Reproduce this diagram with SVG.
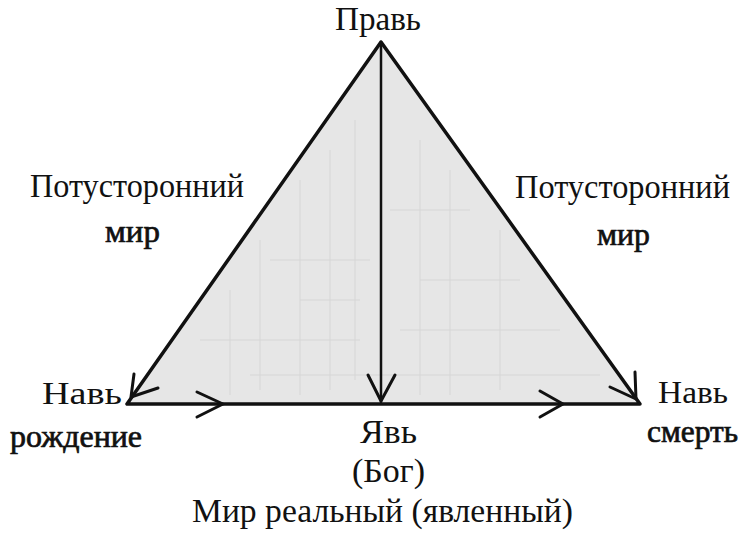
<svg xmlns="http://www.w3.org/2000/svg" width="750" height="546" viewBox="0 0 750 546">
<style>
.t{font-family:"Liberation Serif","Times New Roman",serif;fill:#111;}
.b{stroke:#111;stroke-width:0.7;}
.ln{stroke:#111;fill:none;stroke-linecap:round;stroke-linejoin:round;}
.tx{stroke:#d6d6d6;stroke-width:1;fill:none;}
</style>
<rect width="750" height="546" fill="#ffffff"/>
<g id="triangle">
<polygon points="381,42 127,404 640,404" fill="#e6e6e6"/>
<g class="tx">
<path d="M300,180 V395 M330,150 V390 M355,120 V380 M420,140 V395 M450,170 V395 M500,230 V390 M260,240 V390 M230,290 V395"/>
<path d="M270,260 H370 M390,210 H470 M200,340 H360 M400,330 H560 M300,300 H360 M420,280 H520 M250,375 H600"/>
</g>
<path class="ln" stroke-width="3.5" d="M381,42 L127,404 L640,404 Z"/>
</g>
<g id="connectors">
<path class="ln" stroke-width="2.5" d="M381,42 V402"/>
<path class="ln" stroke-width="3" d="M368,375 L381,401 L395,375"/>
<path class="ln" stroke-width="3" d="M197,392 L223,404 L197,417"/>
<path class="ln" stroke-width="3" d="M540,391 L563,404 L540,417"/>
<path class="ln" stroke-width="3" d="M134,374 L131,397 L158,388"/>
<path class="ln" stroke-width="3" d="M635,372 L636,399 L610,387"/>
</g>
<g id="labels">
<text class="t" x="378" y="30" font-size="33" text-anchor="middle" textLength="86" lengthAdjust="spacingAndGlyphs">Правь</text>
<text class="t" x="30" y="197" font-size="34" textLength="214" lengthAdjust="spacingAndGlyphs">Потусторонний</text>
<text class="t b" x="105" y="242" font-size="32" textLength="55" lengthAdjust="spacingAndGlyphs">мир</text>
<text class="t" x="515" y="198" font-size="34" textLength="215" lengthAdjust="spacingAndGlyphs">Потусторонний</text>
<text class="t b" x="597" y="245" font-size="32" textLength="53" lengthAdjust="spacingAndGlyphs">мир</text>
<text class="t" x="42" y="404" font-size="31" textLength="80" lengthAdjust="spacingAndGlyphs">Навь</text>
<text class="t b" x="10" y="447" font-size="31" textLength="132" lengthAdjust="spacingAndGlyphs">рождение</text>
<text class="t" x="658" y="403" font-size="31" textLength="70" lengthAdjust="spacingAndGlyphs">Навь</text>
<text class="t b" x="647" y="442" font-size="31" textLength="91" lengthAdjust="spacingAndGlyphs">смерть</text>
<text class="t" x="360" y="443" font-size="34" textLength="57" lengthAdjust="spacingAndGlyphs">Явь</text>
<text class="t" x="352" y="482" font-size="34" textLength="73" lengthAdjust="spacingAndGlyphs">(Бог)</text>
<text class="t" x="192" y="522" font-size="34" textLength="381" lengthAdjust="spacingAndGlyphs">Мир реальный (явленный)</text>
</g>
</svg>
